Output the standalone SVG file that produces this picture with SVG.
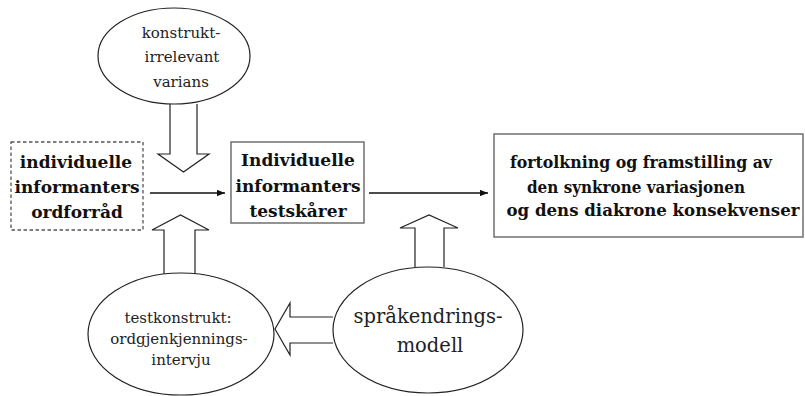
<svg xmlns="http://www.w3.org/2000/svg" width="805" height="396" viewBox="0 0 805 396">
<style>
.bg{fill:#fff}
.ell{fill:#fff;stroke:#222;stroke-width:1.2}
.box{fill:#fff;stroke:#666;stroke-width:1.4}
.dash{fill:#fff;stroke:#555;stroke-width:1.3;stroke-dasharray:3.5 2.5}
.blk{fill:#fff;stroke:#222;stroke-width:1.2;stroke-linejoin:miter}
.ln{fill:none;stroke:#111;stroke-width:1.3}
.b{font-family:"DejaVu Serif",serif;font-weight:bold;font-size:17px;fill:#111;text-anchor:middle}
.b2{font-family:"DejaVu Serif",serif;font-weight:bold;font-size:16.5px;fill:#111;text-anchor:middle}
.r{font-family:"DejaVu Serif",serif;font-size:15px;fill:#222;text-anchor:middle}
.big{font-family:"DejaVu Serif",serif;font-size:19.5px;fill:#222;text-anchor:middle}
</style>
<defs>
<marker id="ah" viewBox="0 0 10 8" refX="10" refY="4" markerWidth="8" markerHeight="6.4" markerUnits="userSpaceOnUse" orient="auto">
<path d="M0,0 L10,4 L0,8 Z" fill="#111"/>
</marker>
</defs>
<rect class="bg" x="0" y="0" width="805" height="396"/>

<g id="connectors">
<path class="ln" d="M150,193 H225" marker-end="url(#ah)"/>
<path class="ln" d="M369,193 H488" marker-end="url(#ah)"/>
<path class="blk" d="M170,104 V154 H158 L183.5,172 L209,154 H197 V104"/>
<path class="blk" d="M164,274 V230 H152 L180.5,215 L209,230 H195 V274"/>
<path class="blk" d="M415,267 V228 H400 L429,215 L458,228 H444 V267"/>
<path class="blk" d="M333,317 H290 V303 L275,329 L290,355 V343 H333"/>
</g>

<g id="irrelevant">
<ellipse class="ell" cx="174" cy="56" rx="76" ry="48"/>
<text class="r" x="181" y="38">konstrukt-</text>
<text class="r" x="182" y="62">irrelevant</text>
<text class="r" x="181" y="87">varians</text>
</g>

<g id="ordforraad">
<rect class="dash" x="11" y="142" width="132" height="88"/>
<text class="b" x="76" y="168">individuelle</text>
<text class="b" x="77" y="193">informanters</text>
<text class="b" x="77" y="218">ordforråd</text>
</g>

<g id="testskaarer">
<rect class="box" x="231" y="142" width="133" height="81"/>
<text class="b" x="298" y="166">Individuelle</text>
<text class="b" x="298" y="192">informanters</text>
<text class="b" x="298" y="217">testskårer</text>
</g>

<g id="fortolkning">
<rect class="box" x="494" y="134" width="309" height="103"/>
<text class="b2" x="641" y="168" textLength="262" lengthAdjust="spacingAndGlyphs">fortolkning og framstilling av</text>
<text class="b2" x="636" y="193" textLength="218" lengthAdjust="spacingAndGlyphs">den synkrone variasjonen</text>
<text class="b2" x="653" y="216" textLength="293" lengthAdjust="spacingAndGlyphs">og dens diakrone konsekvenser</text>
</g>

<g id="testkonstrukt">
<ellipse class="ell" cx="181" cy="334" rx="93" ry="61"/>
<text class="r" x="178" y="323">testkonstrukt:</text>
<text class="r" x="179" y="344">ordgjenkjennings-</text>
<text class="r" x="181" y="365">intervju</text>
</g>

<g id="spraakendring">
<ellipse class="ell" cx="428" cy="330" rx="95" ry="63"/>
<text class="big" x="428" y="323">språkendrings-</text>
<text class="big" x="430" y="352">modell</text>
</g>
</svg>
